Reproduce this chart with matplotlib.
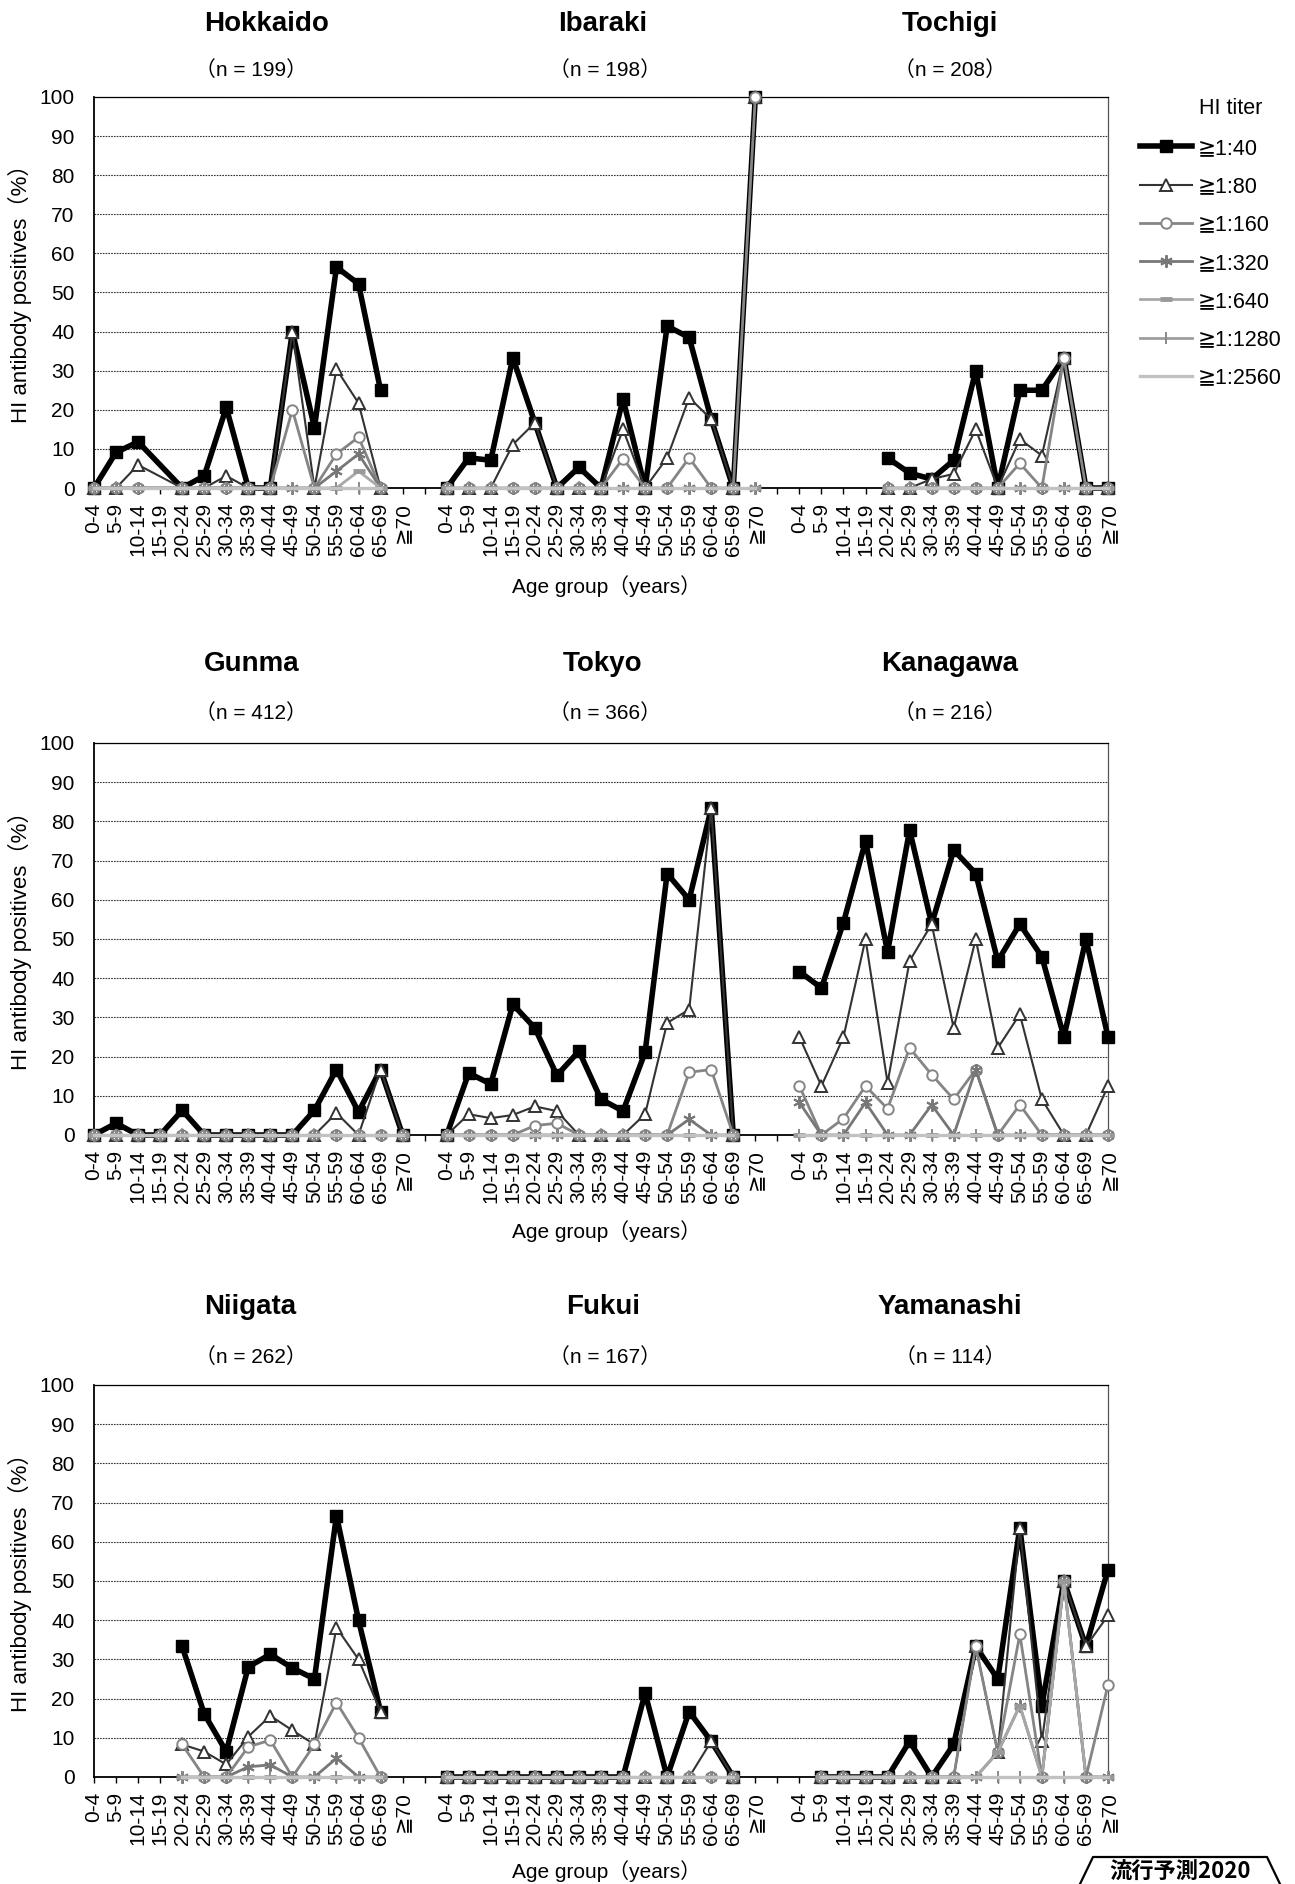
import matplotlib
matplotlib.use('Agg')
import matplotlib.pyplot as plt
import numpy as np
from matplotlib.lines import Line2D

nan = np.nan

# Age groups and titer levels
age_groups = ['0-4', '5-9', '10-14', '15-19', '20-24', '25-29', '30-34', '35-39',
              '40-44', '45-49', '50-54', '55-59', '60-64', '65-69', '≧70']
titers = ['≧1:40', '≧1:80', '≧1:160', '≧1:320', '≧1:640', '≧1:1280', '≧1:2560']

prefectures = ['Hokkaido', 'Ibaraki', 'Tochigi',
               'Gunma', 'Tokyo', 'Kanagawa',
               'Niigata', 'Fukui', 'Yamanashi']
sample_sizes = [199, 198, 208, 412, 366, 216, 262, 167, 114]

# % positives, one row per titer (>=1:40 ... >=1:2560), one column per age group
hokkaido = [
    [0, 9.1, 11.8, nan, 0, 3.1, 20.6, 0, 0, 40.0, 15.4, 56.5, 52.2, 25.0, nan],
    [0, 0, 5.9, nan, 0, 0, 3.1, 0, 0, 40.0, 0, 30.4, 21.7, 0, nan],
    [0, 0, 0, nan, 0, 0, 0, 0, 0, 20.0, 0, 8.7, 13.0, 0, nan],
    [0, 0, 0, nan, 0, 0, 0, 0, 0, 0, 0, 4.3, 8.7, 0, nan],
    [0, 0, 0, nan, 0, 0, 0, 0, 0, 0, 0, 0, 4.3, 0, nan],
    [0, 0, 0, nan, 0, 0, 0, 0, 0, 0, 0, 0, 0, 0, nan],
    [0, 0, 0, nan, 0, 0, 0, 0, 0, 0, 0, 0, 0, 0, nan],
]
ibaraki = [
    [0, 7.7, 7.1, 33.3, 16.7, 0, 5.3, 0, 22.7, 0, 41.4, 38.5, 17.6, 0, 100],
    [0, 0, 0, 11.1, 16.7, 0, 0, 0, 15.0, 0, 7.7, 23.1, 17.6, 0, 100],
    [0, 0, 0, 0, 0, 0, 0, 0, 7.5, 0, 0, 7.7, 0, 0, 100],
    [0, 0, 0, 0, 0, 0, 0, 0, 0, 0, 0, 0, 0, 0, 0],
    [0, 0, 0, 0, 0, 0, 0, 0, 0, 0, 0, 0, 0, 0, 0],
    [0, 0, 0, 0, 0, 0, 0, 0, 0, 0, 0, 0, 0, 0, 0],
    [0, 0, 0, 0, 0, 0, 0, 0, 0, 0, 0, 0, 0, 0, 0],
]
tochigi = [
    [nan, nan, nan, nan, 7.7, 3.8, 2.3, 7.1, 30.0, 0, 25.0, 25.0, 33.3, 0, 0],
    [nan, nan, nan, nan, 0, 0, 2.3, 3.6, 15.0, 0, 12.5, 8.3, 33.3, 0, 0],
    [nan, nan, nan, nan, 0, 0, 0, 0, 0, 0, 6.3, 0, 33.3, 0, 0],
    [nan, nan, nan, nan, 0, 0, 0, 0, 0, 0, 0, 0, 0, 0, 0],
    [nan, nan, nan, nan, 0, 0, 0, 0, 0, 0, 0, 0, 0, 0, 0],
    [nan, nan, nan, nan, 0, 0, 0, 0, 0, 0, 0, 0, 0, 0, 0],
    [nan, nan, nan, nan, 0, 0, 0, 0, 0, 0, 0, 0, 0, 0, 0],
]
gunma = [
    [0, 3.0, 0, 0, 6.3, 0, 0, 0, 0, 0, 6.3, 16.7, 5.9, 16.7, 0],
    [0, 0, 0, 0, 0, 0, 0, 0, 0, 0, 0, 5.6, 0, 16.7, 0],
    [0, 0, 0, 0, 0, 0, 0, 0, 0, 0, 0, 0, 0, 0, 0],
    [0, 0, 0, 0, 0, 0, 0, 0, 0, 0, 0, 0, 0, 0, 0],
    [0, 0, 0, 0, 0, 0, 0, 0, 0, 0, 0, 0, 0, 0, 0],
    [0, 0, 0, 0, 0, 0, 0, 0, 0, 0, 0, 0, 0, 0, 0],
    [0, 0, 0, 0, 0, 0, 0, 0, 0, 0, 0, 0, 0, 0, 0],
]
tokyo = [
    [0, 15.8, 13.0, 33.3, 27.3, 15.2, 21.4, 9.1, 6.1, 21.1, 66.7, 60.0, 83.3, 0, nan],
    [0, 5.3, 4.3, 5.1, 7.3, 6.1, 0, 0, 0, 5.3, 28.6, 32.0, 83.3, 0, nan],
    [0, 0, 0, 0, 2.4, 3.0, 0, 0, 0, 0, 0, 16.0, 16.7, 0, nan],
    [0, 0, 0, 0, 0, 0, 0, 0, 0, 0, 0, 4.0, 0, 0, nan],
    [0, 0, 0, 0, 0, 0, 0, 0, 0, 0, 0, 0, 0, 0, nan],
    [0, 0, 0, 0, 0, 0, 0, 0, 0, 0, 0, 0, 0, 0, nan],
    [0, 0, 0, 0, 0, 0, 0, 0, 0, 0, 0, 0, 0, 0, nan],
]
kanagawa = [
    [41.7, 37.5, 54.2, 75.0, 46.7, 77.8, 53.8, 72.7, 66.7, 44.4, 53.8, 45.5, 25.0, 50.0, 25.0],
    [25.0, 12.5, 25.0, 50.0, 13.3, 44.4, 53.8, 27.3, 50.0, 22.2, 30.8, 9.1, 0, 0, 12.5],
    [12.5, 0, 4.2, 12.5, 6.7, 22.2, 15.4, 9.1, 16.7, 0, 7.7, 0, 0, 0, 0],
    [8.3, 0, 0, 8.3, 0, 0, 7.7, 0, 16.7, 0, 0, 0, 0, 0, 0],
    [0, 0, 0, 0, 0, 0, 0, 0, 0, 0, 0, 0, 0, 0, 0],
    [0, 0, 0, 0, 0, 0, 0, 0, 0, 0, 0, 0, 0, 0, 0],
    [0, 0, 0, 0, 0, 0, 0, 0, 0, 0, 0, 0, 0, 0, 0],
]
niigata = [
    [nan, nan, nan, nan, 33.3, 16.1, 6.5, 28.1, 31.3, 27.8, 25.0, 66.7, 40.0, 16.7, nan],
    [nan, nan, nan, nan, 8.3, 6.5, 3.2, 10.3, 15.6, 11.9, 8.3, 38.1, 30.0, 16.7, nan],
    [nan, nan, nan, nan, 8.3, 0, 0, 7.7, 9.4, 0, 8.3, 19.0, 10.0, 0, nan],
    [nan, nan, nan, nan, 0, 0, 0, 2.6, 3.1, 0, 0, 4.8, 0, 0, nan],
    [nan, nan, nan, nan, 0, 0, 0, 0, 0, 0, 0, 0, 0, 0, nan],
    [nan, nan, nan, nan, 0, 0, 0, 0, 0, 0, 0, 0, 0, 0, nan],
    [nan, nan, nan, nan, 0, 0, 0, 0, 0, 0, 0, 0, 0, 0, nan],
]
fukui = [
    [0, 0, 0, 0, 0, 0, 0, 0, 0, 21.4, 0, 16.7, 9.1, 0, nan],
    [0, 0, 0, 0, 0, 0, 0, 0, 0, 0, 0, 0, 9.1, 0, nan],
    [0, 0, 0, 0, 0, 0, 0, 0, 0, 0, 0, 0, 0, 0, nan],
    [0, 0, 0, 0, 0, 0, 0, 0, 0, 0, 0, 0, 0, 0, nan],
    [0, 0, 0, 0, 0, 0, 0, 0, 0, 0, 0, 0, 0, 0, nan],
    [0, 0, 0, 0, 0, 0, 0, 0, 0, 0, 0, 0, 0, 0, nan],
    [0, 0, 0, 0, 0, 0, 0, 0, 0, 0, 0, 0, 0, 0, nan],
]
yamanashi = [
    [nan, 0, 0, 0, 0, 9.1, 0, 8.3, 33.3, 25.0, 63.6, 18.2, 50.0, 33.3, 52.9],
    [nan, 0, 0, 0, 0, 0, 0, 0, 33.3, 6.3, 63.6, 9.1, 50.0, 33.3, 41.2],
    [nan, 0, 0, 0, 0, 0, 0, 0, 33.3, 6.3, 36.4, 0, 50.0, 0, 23.5],
    [nan, 0, 0, 0, 0, 0, 0, 0, 0, 6.3, 18.2, 0, 50.0, 0, 0],
    [nan, 0, 0, 0, 0, 0, 0, 0, 0, 6.3, 18.2, 0, 50.0, 0, 0],
    [nan, 0, 0, 0, 0, 0, 0, 0, 0, 0, 0, 0, 0, 0, 0],
    [nan, 0, 0, 0, 0, 0, 0, 0, 0, 0, 0, 0, 0, 0, 0],
]

panel_data = [hokkaido, ibaraki, tochigi, gunma, tokyo, kanagawa, niigata, fukui, yamanashi]

# Line styles, one per titer
estilos = [
    dict(color='black', lw=4.0, marker='s', ms=8.5, mfc='black', mec='black'),
    dict(color='#333333', lw=1.5, marker='^', ms=8, mfc='white', mec='#333333', mew=1.4),
    dict(color='#858585', lw=2.0, marker='o', ms=7.5, mfc='white', mec='#858585', mew=1.4),
    dict(color='#777777', lw=2.0, marker=(6, 2, 0), ms=9, mec='#777777', mew=1.4),
    dict(color='#a8a8a8', lw=2.0, marker='_', ms=9, mec='#999999', mew=3.5),
    dict(color='#9e9e9e', lw=2.0, marker='|', ms=9, mec='#8a8a8a', mew=1.4),
    dict(color='#c2c2c2', lw=2.4, marker=None),
]

plt.rcParams['font.family'] = ['Liberation Sans', 'DejaVu Sans', 'Noto Sans CJK JP']

W, H = 1295, 1884
fig = plt.figure(figsize=(W / 100, H / 100), dpi=100)


def fx(px):
    return px / W


def fy(py):
    return 1 - py / H


# Axes rows (top, bottom in pixels) and text rows
filas = [(97, 488), (743, 1135), (1385, 1777)]
titulos_y = [(24, 70), (664, 713), (1307, 1357)]
xlabel_y = [586, 1231, 1871]

tick_labels = age_groups + [''] + age_groups + [''] + age_groups
handles = []

for r, (top, bottom) in enumerate(filas):
    ax = fig.add_axes([fx(94), fy(bottom), (1108 - 94) / W, (bottom - top) / H])
    for c in range(3):
        datos = panel_data[3 * r + c]
        x = np.arange(15) + 16 * c
        for s in range(7):
            y = np.array(datos[s], dtype=float)
            ok = ~np.isnan(y)
            ln, = ax.plot(x[ok], y[ok], clip_on=False, zorder=3 + s, **estilos[s])
            if r == 0 and c == 0:
                handles.append(ln)

    ax.set_xlim(0, 46)
    ax.set_ylim(0, 100)
    ax.set_yticks(np.arange(0, 101, 10))
    ax.set_xticks(np.arange(47))
    ax.set_xticklabels(tick_labels, rotation=90)
    ax.tick_params(axis='x', direction='out', length=4.5, width=1, pad=6, labelsize=15)
    ax.tick_params(axis='y', length=0, pad=14, labelsize=15)
    ax.yaxis.grid(True, color='#333333', linestyle=(0, (1.5, 1)), lw=0.8)
    ax.set_axisbelow(True)
    for lado in ['left', 'bottom']:
        ax.spines[lado].set_linewidth(1.3)
        ax.spines[lado].set_color('black')
    ax.spines['top'].set_linewidth(0.9)
    ax.spines['right'].set_linewidth(0.9)
    ax.spines['right'].set_color('#555555')

    # Prefecture titles and sample sizes
    ty, ny = titulos_y[r]
    for c, (tx, nx) in enumerate([(204, 251), (603, 605), (950, 950)]):
        k = 3 * r + c
        fig.text(fx(tx), fy(ty), prefectures[k], fontsize=20, fontweight='bold',
                 ha='left' if c == 0 else 'center', va='center')
        fig.text(fx(nx), fy(ny), '（n = %d）' % sample_sizes[k], fontsize=15,
                 ha='center', va='center')

    fig.text(fx(607), fy(xlabel_y[r]), 'Age group（years）', fontsize=15,
             ha='center', va='center')
    fig.text(fx(20), fy((top + bottom) / 2 - 4), 'HI antibody positives（%）',
             fontsize=16, rotation=90, ha='center', va='center')

# Legend
fig.text(fx(1231), fy(108), 'HI titer', fontsize=15.5, ha='center', va='center')
fig.legend(handles, titers, loc='upper left', bbox_to_anchor=(fx(1140), fy(138)),
           frameon=False, fontsize=15.5, numpoints=1, handlelength=2.42,
           handletextpad=0.28, labelspacing=0.8, borderpad=0, borderaxespad=0)

# Logo in the bottom right corner
fig.add_artist(Line2D([fx(1080), fx(1093), fx(1267), fx(1280)],
                      [fy(1884), fy(1857), fy(1857), fy(1884)],
                      transform=fig.transFigure, color='black', lw=1.6))
fig.text(fx(1180), fy(1872), '流行予測2020', fontsize=16, fontweight='bold',
         style='italic', ha='center', va='center',
         family=['Noto Sans CJK JP', 'DejaVu Sans'])

fig.savefig('out.png', dpi=100)
